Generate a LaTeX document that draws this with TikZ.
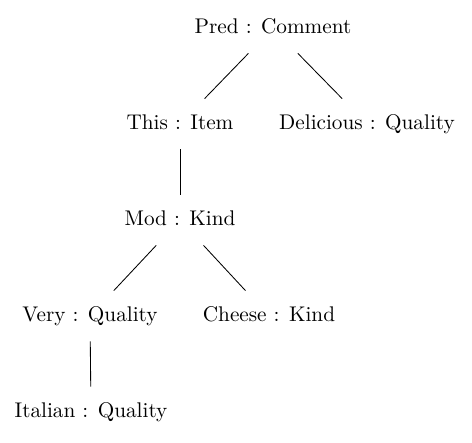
\documentclass[tikz,border=0pt]{standalone}
\usepackage{tikz}

\begin{document}
\begin{tikzpicture}[x=0.471pt,y=-0.471pt,
    cat/.style={inner sep=0pt,minimum height=23.5pt,text height=7pt,text depth=2pt}]
    \useasboundingbox (0,0) rectangle (472,443);
    \node[cat] (pred) at (273,28) {Pred : Comment};
    \node[cat] (this) at (180,124) {This : Item};
    \node[cat] (delicious) at (367,124) {Delicious : Quality};
    \node[cat] (mod) at (180,220) {Mod : Kind};
    \node[cat] (very) at (90,316) {Very : Quality};
    \node[cat] (cheese) at (269,316) {Cheese : Kind};
    \node[cat] (italian) at (91,412) {Italian : Quality};
    \draw (pred) -- (this);
    \draw (pred) -- (delicious);
    \draw (this) -- (mod);
    \draw (mod) -- (very);
    \draw (mod) -- (cheese);
    \draw (very) -- (italian);
  \end{tikzpicture}
\end{document}
